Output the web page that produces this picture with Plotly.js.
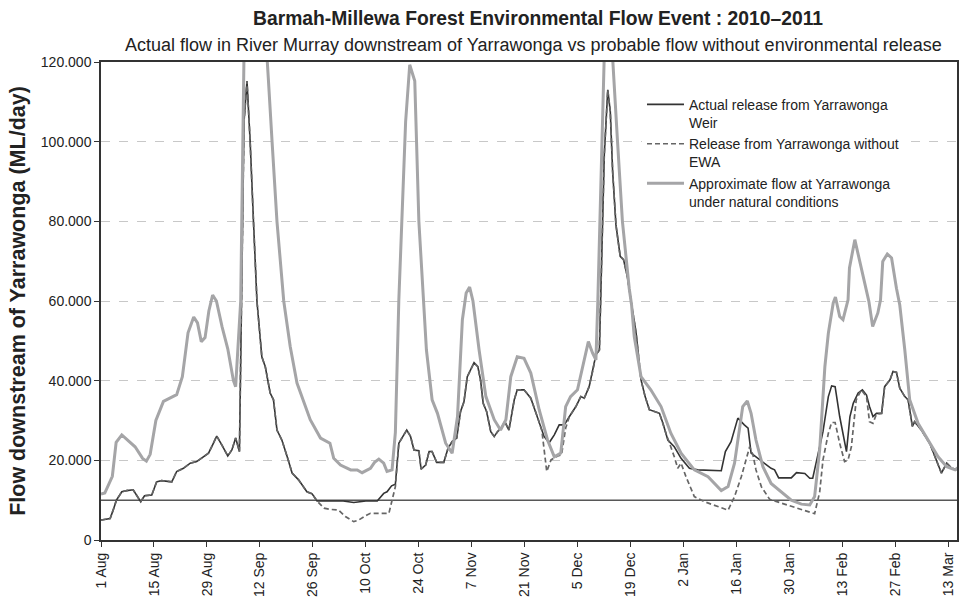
<!DOCTYPE html>
<html>
<head>
<meta charset="utf-8">
<script src="https://cdn.plot.ly/plotly-3.0.1.min.js"></script>
<style>html,body{margin:0;padding:0;background:#fff}#chart{width:961px;height:605px}</style>
</head>
<body>
<div id="chart"></div>
<script>
// Day offsets are days since 1 Aug 2010; flows in ML/day
const startDateUTC = Date.UTC(2010, 7, 1);

const tickDates = ['2010-08-01','2010-08-15','2010-08-29','2010-09-12','2010-09-26','2010-10-10','2010-10-24',
  '2010-11-07','2010-11-21','2010-12-05','2010-12-19','2011-01-02','2011-01-16','2011-01-30','2011-02-13',
  '2011-02-27','2011-03-13'];
const tickLabels = ['1 Aug','15 Aug','29 Aug','12 Sep','26 Sep','10 Oct','24 Oct','7 Nov','21 Nov','5 Dec',
  '19 Dec','2 Jan','16 Jan','30 Jan','13 Feb','27 Feb','13 Mar'];

const seriesNames = ['Actual release from Yarrawonga<br>Weir', 'Release from Yarrawonga without<br>EWA',
  'Approximate flow at Yarrawonga<br>under natural conditions'];

const actualDays = [
  0,2.4,3.2,4.1,5.5,6.8,8.5,9.4,10.5,11.5,
  13.4,14.7,16,18.7,20,21.8,23.6,25.3,27.1,28.4,
  29.5,30.6,31.9,33.5,34.6,35.6,36.6,37.2,37.8,38.6,
  39,39.4,40.3,41.2,42.5,43.4,44.7,45.6,46.5,47.8,
  49.2,50.5,52.2,54.4,55.8,57.1,60,64,66.8,70,
  73,74.7,75.6,76.8,77.8,78.7,80.8,81.8,82.7,84,
  84.6,85.8,86.7,87.5,88.7,90.6,91.7,92.8,94,95,
  95.9,96.8,98.6,99.6,100.3,101,101.9,103,103.9,104.8,
  105.8,106.7,107.8,109.2,110,111.8,113.6,115.3,117.1,118.4,
  119.8,121.1,122.4,123.8,125.5,126.8,127.7,129,129.9,130.8,
  131.7,132.1,133,133.9,134.6,135.2,136.1,137.2,138.1,139,
  140.2,141.4,142.7,143.8,144.9,147.6,148.5,149.8,151.5,153.3,
  155.5,157.7,163.9,165,166.5,168.3,170,171,171.8,173.1,
  175.4,177.1,178,179.1,182.4,183.8,186,187.3,188.1,189.5,
  190.8,192.2,193.1,194,195.2,197,197.9,198.8,200.1,201.2,
  202.3,203.1,204,204.9,206.3,207.1,208.5,209.3,210.2,211.1,
  212.4,213.3,214.4,215,216.8,219,220.8,222.1,223.5,224.8,
  227];
const actualFlow = [
  5000,5400,7500,10000,12100,12400,12600,11100,9600,11100,
  11300,14600,14900,14600,17200,18000,19300,19700,20900,21800,
  23900,26100,23900,21100,22600,25600,22200,60000,105000,115200,
  107600,100000,80000,60000,46000,43500,36900,35200,27600,25100,
  20900,16800,15100,12100,11600,9800,9800,9800,9400,9800,
  9800,11700,12100,13600,14000,24300,27600,26000,22600,22400,
  17800,18800,22200,22200,19500,19500,23000,24700,25600,32200,
  34700,41000,44500,43500,40200,34300,32200,27200,26000,27200,
  28100,29700,27600,35200,37700,37700,35600,31000,26000,24400,
  26400,28900,28900,31000,33500,36000,35600,38500,42300,46500,
  47700,63000,96700,113000,107600,92500,79100,71200,70400,66600,
  59000,51900,40200,36000,32700,31800,29300,25100,23400,20500,
  18000,17600,17400,22200,24700,30600,28900,28100,21800,20900,
  19300,18000,17600,15600,15600,16900,16700,15500,15500,21800,
  27200,36000,38700,38500,31000,22200,31000,34300,36900,37700,
  36400,33500,31000,31800,31800,38500,40200,42300,42100,38100,
  36000,35200,28500,29700,27600,24300,19700,16800,19300,18000,
  17600];

const noEwaDays = [
  0,2.4,3.2,4.1,5.5,6.8,8.5,9.4,10.5,11.5,
  13.4,14.7,16,18.7,20,21.8,23.6,25.3,27.1,28.4,
  29.5,30.6,31.9,33.5,34.6,35.6,36.6,37.2,37.8,38.6,
  39,39.4,40.3,41.2,42.5,43.4,44.7,45.6,46.5,47.8,
  49.2,50.5,52.2,54.4,55.8,57.1,
  58.9,60.6,62.8,64.6,66.8,68.1,70.3,71.2,76.1,77,77.8,78.7,
  80.8,81.8,82.7,84,84.6,85.8,86.7,87.5,88.7,90.6,
  91.7,92.8,94,95,95.9,96.8,98.6,99.6,100.3,101,
  101.9,103,103.9,104.8,105.8,106.7,107.8,109.2,110,111.8,
  113.6,115.3,
  116.5,117.8,118.9,120.7,121.7,122.8,123.8,
  125.5,126.8,127.7,129,129.9,130.8,131.7,132.1,133,133.9,
  134.6,135.2,136.1,137.2,138.1,139,140.2,141.4,142.7,143.8,
  144.9,147.6,
  149.3,150.6,151.5,152.4,153.3,154.6,156.8,159.5,163,165.7,
  167.4,169.2,171.4,172.3,173.1,174.5,176.7,180.7,185.1,188.6,
  189.9,190.8,192.2,193.1,194,195.2,196.5,197.4,198.3,199.6,
  200.9,202.3,203.1,204,204.9,
  206.3,207.1,208.5,209.3,210.2,211.1,212.4,213.3,214.4,215,
  216.8,219,220.8,222.1,223.5,224.8,227];
const noEwaFlow = [
  5000,5400,7500,10000,12100,12400,12600,11100,9600,11100,
  11300,14600,14900,14600,17200,18000,19300,19700,20900,21800,
  23900,26100,23900,21100,22600,25600,22200,60000,105000,115200,
  107600,100000,80000,60000,46000,43500,36900,35200,27600,25100,
  20900,16800,15100,12100,11600,9800,
  8000,7700,7500,5900,4600,5000,6300,6700,6700,10000,13400,24300,
  27600,26000,22600,22400,17800,18800,22200,22200,19500,19500,
  23000,24700,25600,32200,34700,41000,44500,43500,40200,34300,
  32200,27200,26000,27200,28100,29700,27600,35200,37700,37700,
  35600,31000,
  27500,17200,20100,21100,21400,28100,31000,
  33500,36000,35600,38500,42300,46500,47700,63000,96700,113000,
  107600,92500,79100,71200,70400,66600,59000,51900,40200,36000,
  32700,31800,
  26800,23400,20900,18000,19300,15900,10900,9600,8400,7500,
  10900,15900,23400,21400,17600,13400,10200,9000,7700,6600,
  12000,20100,26800,29500,29500,24300,19700,20100,23400,35200,
  37700,36000,29700,29300,31600,
  31800,38500,40200,42300,42100,38100,36000,35200,28500,29700,
  27600,24300,19700,16800,19300,18000,17600];

const naturalDays = [
  0,1,3,4,5.5,7,9,11,12,13,
  14.5,16.5,18,20,21.5,23,24.5,25.5,26.5,27.5,
  28.5,29.5,30.5,32,33.5,35,35.6,36.9,37.8,40,
  42,43.5,44.2,45.2,46.5,48.3,50,51.8,53.5,55.3,
  58,60.5,61.5,63.3,66,67.7,69,71.2,72.3,73.4,
  74.7,75.6,76.9,77.8,78.7,80.5,81.6,82.9,84,85.2,
  86,87.5,88.9,91.1,92.8,94.2,95.5,96.5,97.4,98.3,
  99.9,101.7,103.9,105.6,107,108.3,110,111.8,113.6,115.8,
  118,119.8,121.5,122.8,124.1,125.9,127.3,128.8,129.9,130.8,
  131.3,132.7,133.5,134.5,135.2,136.5,137.8,139.6,140.2,140.9,
  142.7,145.3,148,150.6,153.3,156.8,160.4,163.9,165.7,167.4,
  168.7,169.6,170.8,171.8,173.1,174.9,177.1,179.8,182.4,185.1,
  187.3,188.6,189.9,191.3,192.2,193.5,194.1,195.2,196.1,197.4,
  197.8,199.2,200.9,202.9,203.9,205.3,206,206.6,207.8,208.9,
  210.2,211.1,212.4,213.7,215.9,218.6,221.2,223.5,225.7,227];
const naturalFlow = [
  11500,11800,16000,24500,26400,25200,23400,20500,19800,21500,
  30000,34800,35600,36500,41000,52000,56000,54500,49800,50800,
  57500,61500,60000,53500,48000,40000,38500,60000,122000,160000,
  150000,128000,116000,100000,80000,60000,48600,39400,35000,30200,
  25600,24300,20500,18800,17600,17600,16900,18000,19500,20300,
  19300,17200,17600,27000,60300,105000,119300,115200,80000,59000,
  47700,35200,31800,24300,21800,31000,55300,62000,63500,60000,
  47700,36000,30200,27600,30200,41000,46000,45600,41900,32700,
  25100,20900,21800,33500,36000,37700,43500,49800,46900,45200,
  60000,120000,140000,140000,121000,100000,80000,63200,59000,51100,
  41000,37700,33500,26800,21800,17600,15900,12400,13400,19300,
  28500,33500,34900,31800,25100,18400,14200,12100,10000,9000,
  8800,10900,22600,43500,51900,59500,61000,56100,55300,60300,
  68300,75400,68300,59900,53600,57000,60300,69900,71800,70800,
  63200,59000,47700,35200,29300,25100,20900,18400,17600,18600];

const thresholdFlow = 10000;
const yTickVals = [0,20000,40000,60000,80000,100000,120000];

function toDate(d) {
  const t = new Date(startDateUTC + Math.round(d * 24) * 3600000);
  return t.toISOString().slice(0, 13).replace('T', ' ') + ':00';
}

const FONT = '"Liberation Sans", Arial, Helvetica, sans-serif';

const traces = [
  { x: actualDays.map(toDate), y: actualFlow, name: seriesNames[0], type: 'scatter', mode: 'lines',
    line: { color: '#333333', width: 1.6 } },
  { x: noEwaDays.map(toDate), y: noEwaFlow, name: seriesNames[1], type: 'scatter', mode: 'lines',
    line: { color: '#666666', width: 1.7, dash: '5px,3px' } },
  { x: naturalDays.map(toDate), y: naturalFlow, name: seriesNames[2], type: 'scatter', mode: 'lines',
    line: { color: '#a5a5a7', width: 3 } }
];

const layout = {
  width: 961, height: 605,
  margin: { l: 101, r: 4, t: 62, b: 65 },
  paper_bgcolor: '#ffffff', plot_bgcolor: '#ffffff',
  font: { family: FONT, size: 14, color: '#222' },
  separators: ',.',
  showlegend: true,
  legend: { x: 0.632, y: 0.944, xanchor: 'left', yanchor: 'top', bgcolor: '#ffffff',
    font: { family: FONT, size: 14, color: '#222' }, itemwidth: 37, valign: 'top' },
  xaxis: {
    type: 'date', range: ['2010-08-01', '2011-03-15 05:00'],
    tickmode: 'array', tickvals: tickDates, ticktext: tickLabels, tickangle: -90,
    ticks: 'outside', ticklen: 5, tickcolor: '#333', tickwidth: 1,
    showline: true, linecolor: '#333', linewidth: 2, mirror: true,
    showgrid: false, zeroline: false, tickfont: { size: 14, color: '#222' }
  },
  yaxis: {
    range: [0, 120000], tickmode: 'array', tickvals: yTickVals, tickformat: ',d',
    ticks: 'outside', ticklen: 5, tickcolor: '#333', tickwidth: 1,
    showline: true, linecolor: '#333', linewidth: 1.5, mirror: true,
    showgrid: true, gridcolor: '#c8c8c8', gridwidth: 1, griddash: 'dash', zeroline: false,
    tickfont: { size: 14, color: '#222' },
    title: { text: '<b>Flow downstream of Yarrawonga (ML/day)</b>', font: { size: 21.5, color: '#222' }, standoff: 9 }
  },
  shapes: [
    { type: 'line', xref: 'paper', x0: 0, x1: 1, yref: 'y', y0: thresholdFlow, y1: thresholdFlow,
      line: { color: '#000', width: 1 }, layer: 'below' }
  ],
  annotations: [
    { text: '<b>Barmah-Millewa Forest Environmental Flow Event : 2010–2011</b>', xref: 'paper', yref: 'paper',
      x: 0.511, y: 1.09, xanchor: 'center', yanchor: 'middle', showarrow: false,
      font: { size: 19.3, color: '#222', family: FONT } },
    { text: 'Actual flow in River Murray downstream of Yarrawonga vs probable flow without environmental release',
      xref: 'paper', yref: 'paper', x: 0.505, y: 1.035, xanchor: 'center', yanchor: 'middle', showarrow: false,
      font: { size: 18, color: '#222', family: FONT } }
  ]
};

Plotly.newPlot('chart', traces, layout, { displayModeBar: false, responsive: false });
</script>
</body>
</html>
